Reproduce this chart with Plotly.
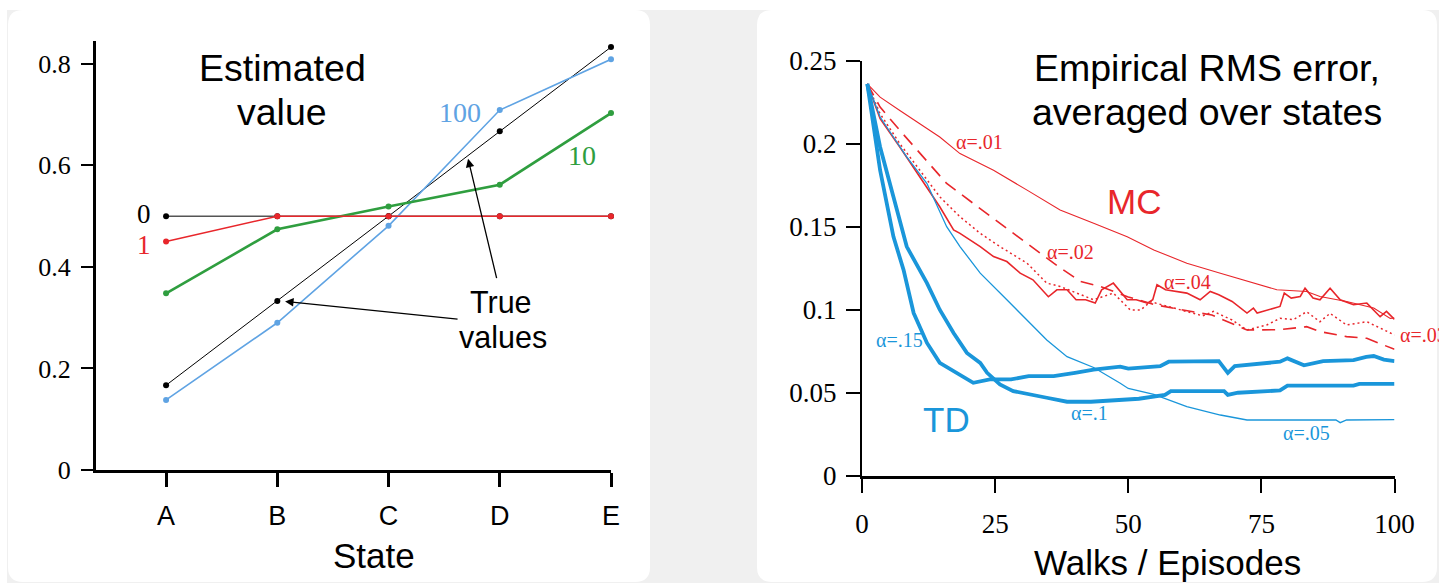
import plotly.graph_objects as go

W, H = 1439, 583

# ---------------- Left chart data ----------------
states = ["A", "B", "C", "D", "E"]
state_idx = [0, 1, 2, 3, 4]
est_0 = [0.5, 0.5, 0.5, 0.5, 0.5]
est_1 = [0.45, 0.5, 0.5, 0.5, 0.5]
est_10 = [0.348, 0.474, 0.519, 0.562, 0.703]
est_100 = [0.138, 0.290, 0.481, 0.709, 0.809]
true_vals = [0.167, 0.333, 0.5, 0.667, 0.833]
left_yticks = [0, 0.2, 0.4, 0.6, 0.8]
left_yticktext = ["0", "0.2", "0.4", "0.6", "0.8"]

# ---------------- Right chart data ----------------
td15_ep = [1, 3.4, 5.9, 7.8, 9.7, 12.2, 14.6, 17.2, 20.9, 24, 28, 31.3, 36, 40, 43.5, 48.5, 50, 56, 57.6, 67, 68.7, 70, 78.5, 79.9, 83, 86.6, 92.3, 94.7, 96.1, 98, 100]
td15_val = [0.236, 0.184, 0.144, 0.124, 0.098, 0.080, 0.068, 0.063, 0.056, 0.058, 0.058, 0.060, 0.060, 0.062, 0.064, 0.0657, 0.0645, 0.066, 0.0687, 0.069, 0.062, 0.066, 0.0687, 0.0707, 0.0665, 0.069, 0.0697, 0.0716, 0.0721, 0.070, 0.069]

td10_ep = [1, 3.4, 5.9, 8.4, 12.2, 14.6, 17.2, 19.7, 22.2, 23.5, 25.9, 28.4, 34.7, 38.5, 43, 48.5, 52, 56.9, 58, 68, 68.7, 70.6, 78.5, 79.9, 84.5, 92.3, 93.4, 100]
td10_val = [0.236, 0.198, 0.168, 0.138, 0.116, 0.100, 0.086, 0.074, 0.068, 0.062, 0.055, 0.051, 0.047, 0.0446, 0.0446, 0.0457, 0.0464, 0.0487, 0.051, 0.051, 0.0487, 0.050, 0.0514, 0.0543, 0.0543, 0.0543, 0.0553, 0.0553]

td05_ep = [1, 3.4, 5.9, 8.4, 12.2, 15.9, 18.4, 22.2, 27.2, 31, 34.7, 38.5, 43.5, 48.5, 50, 54.8, 61, 67.3, 72.3, 89, 89.8, 91, 100]
td05_val = [0.236, 0.216, 0.204, 0.192, 0.176, 0.150, 0.138, 0.122, 0.106, 0.0938, 0.0818, 0.0717, 0.0652, 0.0557, 0.0526, 0.049, 0.0416, 0.0366, 0.0336, 0.0336, 0.032, 0.0336, 0.0338]

mc01_ep = [1, 3.4, 7.1, 10.9, 14.6, 18.4, 24.7, 31, 37.2, 43.5, 49.8, 54.8, 61, 67.3, 73.5, 77.9, 83.5, 86, 91, 96.1, 99.2, 100]
mc01_val = [0.236, 0.228, 0.220, 0.212, 0.204, 0.194, 0.184, 0.172, 0.160, 0.152, 0.144, 0.136, 0.128, 0.122, 0.116, 0.112, 0.111, 0.108, 0.105, 0.101, 0.0948, 0.095]

mc02_ep = [1, 3.4, 7.1, 10.9, 15.9, 20.9, 25.9, 31, 36, 41, 44.7, 50, 55, 60, 65.7, 72.3, 78.5, 83.5, 86, 91, 94.8, 97.9, 100]
mc02_val = [0.236, 0.222, 0.208, 0.194, 0.176, 0.164, 0.152, 0.140, 0.128, 0.117, 0.114, 0.1077, 0.103, 0.100, 0.0968, 0.0878, 0.088, 0.0898, 0.0868, 0.0838, 0.0828, 0.0788, 0.0762]

mc03_ep = [1, 3.4, 7.1, 10.9, 14.6, 18.4, 22.2, 25.9, 31, 34.7, 37.2, 43.5, 47.2, 50.4, 52.3, 54.2, 57.5, 61, 64, 66, 69.5, 72.3, 76, 78.5, 81, 83.5, 86, 87.9, 91, 94.8, 97.9, 100]
mc03_val = [0.236, 0.218, 0.200, 0.184, 0.168, 0.156, 0.146, 0.138, 0.128, 0.116, 0.114, 0.106, 0.110, 0.0998, 0.0998, 0.1048, 0.102, 0.0988, 0.0963, 0.099, 0.0938, 0.0878, 0.0908, 0.0948, 0.094, 0.0988, 0.0928, 0.0978, 0.0908, 0.0928, 0.0878, 0.0848]

mc04_ep = [1, 3.4, 7.1, 12.2, 14.6, 17.2, 18.4, 22.2, 24.7, 27.2, 29.7, 32.1, 35, 36.6, 38.5, 40.2, 42, 43.8, 45, 47.2, 49.8, 51.5, 53.6, 54.6, 55.4, 57, 61, 63.5, 65.4, 67, 69.5, 72.3, 73.5, 74.2, 78.5, 79.3, 80.6, 82.3, 83.2, 84.7, 86, 87.9, 89.8, 92.3, 94.8, 97.3, 98.5, 100]
mc04_val = [0.236, 0.215, 0.198, 0.174, 0.162, 0.148, 0.146, 0.138, 0.132, 0.129, 0.122, 0.118, 0.1078, 0.112, 0.112, 0.106, 0.106, 0.104, 0.112, 0.116, 0.106, 0.106, 0.104, 0.106, 0.115, 0.112, 0.110, 0.106, 0.111, 0.109, 0.105, 0.098, 0.101, 0.098, 0.102, 0.110, 0.107, 0.108, 0.113, 0.107, 0.106, 0.113, 0.106, 0.103, 0.104, 0.0958, 0.099, 0.0942]

right_xticks = [0, 25, 50, 75, 100]
right_yticks = [0, 0.05, 0.1, 0.15, 0.2, 0.25]
right_yticktext = ["0", "0.05", "0.1", "0.15", "0.2", "0.25"]

# ---------------- helpers (pixel -> paper) ----------------
def px(x):
    return x / W

def py(y):
    return 1 - y / H

RED = "#e8262b"
GREEN = "#2f9e3f"
LBLUE = "#5fa3e3"
TDBLUE = "#1a96da"
SERIF = "Liberation Serif, Times New Roman, serif"
SANS = "Liberation Sans, Arial, Helvetica, sans-serif"

fig = go.Figure()

# Left chart traces
fig.add_trace(go.Scatter(x=state_idx, y=est_0, mode="lines+markers", line=dict(color="#555555", width=1.5),
                         marker=dict(color="black", size=6), xaxis="x", yaxis="y", cliponaxis=False))
fig.add_trace(go.Scatter(x=state_idx, y=true_vals, mode="lines+markers", line=dict(color="black", width=1),
                         marker=dict(color="black", size=6), xaxis="x", yaxis="y", cliponaxis=False))
fig.add_trace(go.Scatter(x=state_idx, y=est_100, mode="lines+markers", line=dict(color=LBLUE, width=1.6),
                         marker=dict(color=LBLUE, size=6), xaxis="x", yaxis="y", cliponaxis=False))
fig.add_trace(go.Scatter(x=state_idx, y=est_10, mode="lines+markers", line=dict(color=GREEN, width=2.6),
                         marker=dict(color=GREEN, size=6), xaxis="x", yaxis="y", cliponaxis=False))
fig.add_trace(go.Scatter(x=state_idx, y=est_1, mode="lines+markers", line=dict(color=RED, width=1.5),
                         marker=dict(color=RED, size=6), xaxis="x", yaxis="y", cliponaxis=False))

# Right chart traces
def rline(xs, ys, color, width, dash="solid"):
    fig.add_trace(go.Scatter(x=xs, y=ys, mode="lines", line=dict(color=color, width=width, dash=dash),
                             xaxis="x2", yaxis="y2", cliponaxis=False))

rline(mc01_ep, mc01_val, RED, 1.1)
rline(mc02_ep, mc02_val, RED, 1.6, "13px,8px")
rline(mc03_ep, mc03_val, RED, 1.5, "2px,3px")
rline(mc04_ep, mc04_val, RED, 1.6)
rline(td05_ep, td05_val, TDBLUE, 1.3)
rline(td10_ep, td10_val, TDBLUE, 3.8)
rline(td15_ep, td15_val, TDBLUE, 3.8)

# Panels background
def rounded(x0, y0, x1, y1, r):
    X = lambda v: px(v)
    Y = lambda v: py(v)
    return (f"M {X(x0+r)} {Y(y0)} L {X(x1-r)} {Y(y0)} Q {X(x1)} {Y(y0)} {X(x1)} {Y(y0+r)} "
            f"L {X(x1)} {Y(y1-r)} Q {X(x1)} {Y(y1)} {X(x1-r)} {Y(y1)} "
            f"L {X(x0+r)} {Y(y1)} Q {X(x0)} {Y(y1)} {X(x0)} {Y(y1-r)} "
            f"L {X(x0)} {Y(y0+r)} Q {X(x0)} {Y(y0)} {X(x0+r)} {Y(y0)} Z")

shapes = [
    dict(type="rect", xref="paper", yref="paper", x0=px(7), x1=1, y0=0, y1=py(10),
         fillcolor="#f0f0f0", line=dict(width=0), layer="below"),
    dict(type="path", xref="paper", yref="paper", path=rounded(8, 10, 650, 582, 15),
         fillcolor="white", line=dict(width=0), layer="below"),
    dict(type="path", xref="paper", yref="paper", path=rounded(757, 10, 1437, 582, 15),
         fillcolor="white", line=dict(width=0), layer="below"),
]

annotations = []
def ann(text, x, y, size, color="black", family=SANS, xanchor="center", ref=("paper", "paper")):
    annotations.append(dict(text=text, x=x, y=y, xref=ref[0], yref=ref[1], showarrow=False,
                            font=dict(size=size, color=color, family=family), xanchor=xanchor, yanchor="middle"))

# Left titles / labels
ann("Estimated", px(282), py(68), 37.5)
ann("value", px(282), py(112), 37.5)
ann("State", px(374), py(555), 35)
ann("True", px(501), py(302), 30.5)
ann("values", px(503), py(337), 30.5)
ann("0", px(144), py(214), 27, "black", SERIF)
ann("1", px(144), py(245), 27, RED, SERIF)
ann("100", px(460), py(113), 28, LBLUE, SERIF)
ann("10", px(582), py(155), 28, GREEN, SERIF)

# arrows
annotations.append(dict(x=1.07, y=0.332, ax=2.634, ay=0.297, xref="x", yref="y", axref="x", ayref="y",
                        text="", showarrow=True, arrowhead=2, arrowsize=1.3, arrowwidth=1.3, arrowcolor="black"))
annotations.append(dict(x=2.715, y=0.613, ax=2.975, ay=0.375, xref="x", yref="y", axref="x", ayref="y",
                        text="", showarrow=True, arrowhead=2, arrowsize=1.3, arrowwidth=1.3, arrowcolor="black"))

# Right titles / labels
ann("Empirical RMS error,", px(1207), py(68), 37.5)
ann("averaged over states", px(1207), py(112), 37.5)
ann("Walks / Episodes", px(1167), py(562), 35)
ann("MC", px(1134), py(201), 35, RED)
ann("TD", px(946), py(419), 35, TDBLUE)
ann("α=.01", px(979), py(142), 20, RED, SERIF)
ann("α=.02", px(1070), py(252), 20, RED, SERIF)
ann("α=.04", px(1187), py(282), 20, RED, SERIF)
ann("α=.03", px(1398), py(335), 20, RED, SERIF, xanchor="left")
ann("α=.15", px(900), py(340), 20, TDBLUE, SERIF)
ann("α=.1", px(1089), py(413), 20, TDBLUE, SERIF)
ann("α=.05", px(1306), py(433), 20, TDBLUE, SERIF)

common = dict(showgrid=False, zeroline=False, showline=True, linecolor="black", ticks="outside",
              tickcolor="black", automargin=False, fixedrange=True)

fig.update_layout(
    template="none",
    width=W, height=H, margin=dict(l=0, r=0, t=0, b=0, pad=0), autosize=False,
    paper_bgcolor="white", plot_bgcolor="rgba(0,0,0,0)",
    showlegend=False, shapes=shapes, annotations=annotations,
    xaxis=dict(domain=[px(96), px(611)], range=[-0.63, 4], tickvals=state_idx, ticktext=states,
               linewidth=3, ticklen=14, tickwidth=2.5,
               tickfont=dict(family=SANS, size=27, color="black"), ticklabelstandoff=6, **common),
    yaxis=dict(domain=[py(470), py(41)], range=[0, 0.845], tickvals=left_yticks, ticktext=left_yticktext,
               linewidth=3, ticklen=12, tickwidth=2,
               tickfont=dict(family=SERIF, size=26, color="black"), ticklabelstandoff=5, **common),
    xaxis2=dict(domain=[px(862), px(1394.5)], range=[0, 100], tickvals=right_xticks, anchor="y2",
                linewidth=2.5, ticklen=14, tickwidth=1.5,
                tickfont=dict(family=SERIF, size=27, color="black"), ticklabelstandoff=8, **common),
    yaxis2=dict(domain=[py(475.8), py(60.6)], range=[0, 0.25], tickvals=right_yticks, ticktext=right_yticktext,
                anchor="x2", linewidth=2, ticklen=14, tickwidth=1.5,
                tickfont=dict(family=SERIF, size=27, color="black"), ticklabelstandoff=4, **common),
)

fig.write_html("out.html", config={"displayModeBar": False},
               post_script="document.body.style.margin='0';document.body.style.padding='0';document.body.style.overflow='hidden';")
